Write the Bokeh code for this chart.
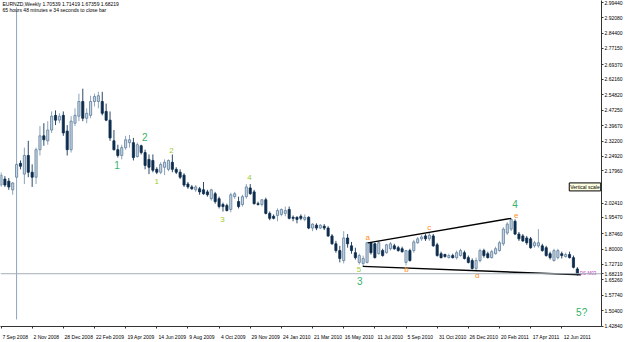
from bokeh.plotting import figure
from bokeh.models import (Range1d, FixedTicker, NumeralTickFormatter, Label, Span,
                          ColumnDataSource, LinearAxis)
from bokeh.core.properties import value
from bokeh.embed import file_html
from bokeh.resources import INLINE

# ---- weekly EURNZD candles (bar 0 = week of 7 Sep 2008) ----
opens = [2.111, 2.140, 2.130, 2.088, 2.149, 2.216, 2.164, 2.254, 2.173, 2.149,
         2.282, 2.349, 2.325, 2.377, 2.448, 2.425, 2.448, 2.372, 2.282, 2.410,
         2.444, 2.515, 2.434, 2.448, 2.515, 2.515, 2.515, 2.467, 2.425, 2.325,
         2.282, 2.254, 2.292, 2.316, 2.316, 2.249, 2.301, 2.268, 2.235, 2.230,
         2.187, 2.173, 2.197, 2.187, 2.221, 2.187, 2.173, 2.159, 2.116, 2.102,
         2.088, 2.093, 2.088, 2.078, 2.045, 2.069, 2.045, 2.017, 2.012, 1.993,
         2.055, 2.031, 2.017, 2.055, 2.097, 2.078, 2.021, 2.017, 2.040, 1.974,
         1.960, 1.964, 1.969, 1.974, 1.993, 1.955, 1.955, 1.960, 1.945, 1.955,
         1.903, 1.917, 1.903, 1.912, 1.903, 1.865, 1.827, 1.794, 1.746, 1.855,
         1.817, 1.784, 1.737, 1.732, 1.737, 1.832, 1.827, 1.779, 1.794, 1.784,
         1.803, 1.817, 1.808, 1.803, 1.737, 1.794, 1.794, 1.832, 1.851, 1.865,
         1.851, 1.865, 1.822, 1.779, 1.775, 1.760, 1.770, 1.760, 1.770, 1.784,
         1.760, 1.746, 1.708, 1.746, 1.794, 1.779, 1.760, 1.779, 1.794, 1.827,
         1.879, 1.898, 1.936, 1.874, 1.865, 1.855, 1.851, 1.817, 1.817, 1.817,
         1.808, 1.779, 1.746, 1.760, 1.779, 1.765, 1.775, 1.760, 1.70539]
highs = [2.173, 2.154, 2.145, 2.126, 2.970, 2.230, 2.292, 2.325, 2.211, 2.292,
         2.396, 2.410, 2.420, 2.467, 2.472, 2.458, 2.467, 2.401, 2.444, 2.482,
         2.553, 2.577, 2.482, 2.543, 2.553, 2.562, 2.562, 2.505, 2.467, 2.377,
         2.306, 2.306, 2.349, 2.353, 2.339, 2.316, 2.306, 2.282, 2.259, 2.259,
         2.197, 2.221, 2.235, 2.235, 2.259, 2.197, 2.187, 2.168, 2.126, 2.111,
         2.111, 2.102, 2.126, 2.088, 2.093, 2.078, 2.055, 2.026, 2.021, 2.074,
         2.078, 2.055, 2.064, 2.116, 2.116, 2.088, 2.031, 2.040, 2.050, 1.983,
         1.969, 1.998, 1.998, 2.007, 2.007, 1.964, 1.960, 1.969, 1.969, 1.960,
         1.926, 1.926, 1.922, 1.922, 1.912, 1.874, 1.841, 1.817, 1.888, 1.874,
         1.836, 1.808, 1.779, 1.770, 1.836, 1.836, 1.832, 1.841, 1.803, 1.827,
         1.836, 1.827, 1.817, 1.813, 1.798, 1.803, 1.846, 1.860, 1.869, 1.874,
         1.879, 1.874, 1.832, 1.789, 1.779, 1.779, 1.779, 1.794, 1.803, 1.794,
         1.770, 1.756, 1.760, 1.803, 1.803, 1.789, 1.798, 1.813, 1.841, 1.907,
         1.931, 1.950, 1.945, 1.884, 1.874, 1.865, 1.860, 1.841, 1.898, 1.827,
         1.817, 1.789, 1.803, 1.803, 1.789, 1.784, 1.789, 1.770, 1.71419]
lows = [2.102, 2.102, 2.088, 2.064, 1.461, 2.187, 2.116, 2.149, 2.102, 2.116,
        2.254, 2.301, 2.306, 2.363, 2.401, 2.410, 2.349, 2.254, 2.268, 2.396,
        2.420, 2.420, 2.410, 2.434, 2.491, 2.482, 2.448, 2.420, 2.325, 2.278,
        2.244, 2.235, 2.282, 2.292, 2.230, 2.244, 2.259, 2.187, 2.164, 2.173,
        2.164, 2.164, 2.159, 2.178, 2.173, 2.164, 2.140, 2.102, 2.093, 2.088,
        2.078, 2.064, 2.064, 2.055, 2.036, 2.021, 1.998, 1.983, 1.983, 1.979,
        2.045, 1.998, 2.007, 2.045, 2.064, 2.017, 2.012, 2.007, 1.969, 1.941,
        1.945, 1.936, 1.960, 1.960, 1.945, 1.936, 1.926, 1.941, 1.936, 1.898,
        1.888, 1.893, 1.898, 1.893, 1.860, 1.822, 1.784, 1.737, 1.732, 1.808,
        1.779, 1.751, 1.727, 1.718, 1.732, 1.775, 1.756, 1.775, 1.765, 1.779,
        1.794, 1.798, 1.789, 1.784, 1.722, 1.741, 1.784, 1.827, 1.841, 1.841,
        1.841, 1.813, 1.765, 1.756, 1.760, 1.756, 1.756, 1.751, 1.765, 1.751,
        1.732, 1.703, 1.694, 1.737, 1.760, 1.756, 1.756, 1.775, 1.789, 1.817,
        1.869, 1.888, 1.869, 1.841, 1.836, 1.822, 1.803, 1.808, 1.808, 1.789,
        1.765, 1.751, 1.741, 1.751, 1.756, 1.760, 1.756, 1.708, 1.67359]
closes = [2.159, 2.111, 2.102, 2.121, 2.211, 2.202, 2.254, 2.173, 2.149, 2.282,
          2.349, 2.330, 2.377, 2.444, 2.425, 2.444, 2.363, 2.282, 2.420, 2.448,
          2.515, 2.434, 2.458, 2.515, 2.539, 2.543, 2.458, 2.425, 2.339, 2.282,
          2.254, 2.292, 2.330, 2.330, 2.244, 2.306, 2.268, 2.206, 2.197, 2.183,
          2.173, 2.211, 2.221, 2.230, 2.187, 2.173, 2.149, 2.111, 2.102, 2.093,
          2.102, 2.078, 2.069, 2.064, 2.088, 2.031, 2.007, 2.007, 1.988, 2.064,
          2.069, 2.007, 2.055, 2.102, 2.069, 2.021, 2.017, 2.040, 1.974, 1.950,
          1.950, 1.988, 1.993, 1.988, 1.950, 1.950, 1.945, 1.950, 1.955, 1.903,
          1.922, 1.903, 1.917, 1.903, 1.865, 1.827, 1.794, 1.756, 1.855, 1.827,
          1.794, 1.760, 1.770, 1.756, 1.832, 1.784, 1.760, 1.832, 1.770, 1.822,
          1.827, 1.803, 1.794, 1.789, 1.794, 1.746, 1.836, 1.851, 1.860, 1.851,
          1.869, 1.817, 1.770, 1.760, 1.765, 1.770, 1.760, 1.784, 1.794, 1.756,
          1.737, 1.708, 1.746, 1.794, 1.770, 1.760, 1.789, 1.803, 1.832, 1.898,
          1.922, 1.945, 1.874, 1.851, 1.841, 1.832, 1.808, 1.832, 1.832, 1.794,
          1.770, 1.760, 1.794, 1.794, 1.770, 1.775, 1.760, 1.713, 1.68219]

date_labels = ["7 Sep 2008", "2 Nov 2008", "28 Dec 2008", "22 Feb 2009", "19 Apr 2009",
               "14 Jun 2009", "9 Aug 2009", "4 Oct 2009", "29 Nov 2009", "24 Jan 2010",
               "21 Mar 2010", "16 May 2010", "11 Jul 2010", "5 Sep 2010", "31 Oct 2010",
               "26 Dec 2010", "20 Feb 2011", "17 Apr 2011", "12 Jun 2011"]
date_label_bars = [0, 8, 16, 24, 32, 40, 48, 56, 64, 72, 80, 88, 96, 104, 112, 120, 128, 136, 144]

price_ticks = [2.9944, 2.9208, 2.8440, 2.7715, 2.6937, 2.6216, 2.5482, 2.4725, 2.3967,
               2.3220, 2.2492, 2.1796, 2.0241, 1.9547, 1.8746, 1.8000, 1.7271, 1.6526,
               1.5774, 1.5040, 1.4284]

# Elliott wave annotations
wave_text = ["1", "2", "1", "2", "3", "4", "5", "3", "a", "b", "c", "d", "e", "4", "5?"]
wave_bar = [29.8, 36.9, 40.0, 43.8, 56.9, 63.8, 91.9, 92.1, 94.2, 104.1, 110.0, 122.3, 132.3, 132.0, 149.1]
wave_price = [2.206, 2.344, 2.126, 2.278, 1.945, 2.149, 1.703, 1.647, 1.855, 1.703, 1.907, 1.675, 1.964, 2.021, 1.495]
wave_degree = ["major", "major", "minor", "minor", "minor", "minor", "minor", "major",
               "sub", "sub", "sub", "sub", "sub", "major", "major"]

# triangle trend lines (bar index, price)
upper_bars = [94.2, 131.0]
upper_prices = [1.8315, 1.9501]
lower_bars = [92.9, 148.9]
lower_prices = [1.7176, 1.6770]

symbol = "EURNZD,Weekly"
last_price = closes[-1]

X0, X1 = -0.13, 154.2
FRAME_W = 604
px_per_bar = FRAME_W / (X1 - X0)

# ---- figure ----
p = figure(width=625, height=342, x_range=Range1d(X0, X1), y_range=Range1d(1.427, 3.0035),
           y_axis_location="right", toolbar_location=None, output_backend="svg",
           min_border_left=0, min_border_top=0, min_border_right=0, min_border_bottom=0,
           background_fill_color="white", border_fill_color="white", outline_line_color=None)
p.grid.visible = False

bars = list(range(len(opens)))
bull = [c >= o for o, c in zip(opens, closes)]
src = ColumnDataSource(dict(
    x=bars, o=opens, h=highs, l=lows, c=closes,
    top=[max(o, c) for o, c in zip(opens, closes)],
    bot=[min(o, c) for o, c in zip(opens, closes)],
    fill=["#c9d5e1" if b else "#0e2d4e" for b in bull],
    edge=["#5d7d9c" if b else "#0e2d4e" for b in bull],
    wick=["#8ca4bc" if b else "#2c4a6a" for b in bull],
))

p.segment(x0="x", y0="l", x1="x", y1="h", source=src, line_color="wick", line_width=1)
p.vbar(x="x", width=0.55, top="top", bottom="bot", source=src,
       fill_color="fill", line_color="edge", line_width=0.8)

# bid line
p.add_layout(Span(location=last_price, dimension="width", line_color="#a3aebb", line_width=1))

# trend lines
p.line(upper_bars, upper_prices, line_color="black", line_width=1.4)
p.line(lower_bars, lower_prices, line_color="black", line_width=1.4)

# wave labels
deg_color = {"major": "#35b36a", "minor": "#9ccd2e", "sub": "#ff8c1a"}
deg_size = {"major": "10px", "minor": "8px", "sub": "8px"}
wsrc = ColumnDataSource(dict(
    x=wave_bar, y=wave_price, t=wave_text,
    col=[deg_color[d] for d in wave_degree],
    fs=[deg_size[d] for d in wave_degree],
))
p.text(x="x", y="y", text="t", source=wsrc, text_color="col", text_font_size="fs",
       text_align="center", text_baseline="middle", text_font=value("Liberation Sans"))

p.text(x=[148.6], y=[last_price - 0.001], text=["DS-M03"], text_color="#c040c0",
       text_font_size="4.5px", text_baseline="middle", text_font=value("Liberation Sans"))

# header
p.add_layout(Label(x=2, y=3.0030, x_units="screen", y_units="data",
                   text=f"{symbol}  {opens[-1]:.5f} {highs[-1]:.5f} {lows[-1]:.5f} {closes[-1]:.5f}",
                   text_font="Liberation Sans", text_font_size="5px", text_baseline="top",
                   text_color="black"))
p.add_layout(Label(x=2, y=2.9740, x_units="screen", y_units="data",
                   text="65 hours 48 minutes e 34 seconds to close bar",
                   text_font="Liberation Sans", text_font_size="5px", text_baseline="top",
                   text_color="black"))

# vertical scale tag at the right edge of the chart
p.add_layout(Label(x=X1 - 0.2, y=2.102, text="Vertical scale", text_color="black",
                   text_font="Liberation Sans", text_font_size="5px", text_baseline="middle",
                   text_align="right", background_fill_color="#ffffe1",
                   border_line_color="black", padding=1))

# axes
ya = p.yaxis[0]
ya.ticker = FixedTicker(ticks=price_ticks + [last_price])
ya.formatter = NumeralTickFormatter(format="0.00000")

xa = p.xaxis[0]
xa.ticker = FixedTicker(ticks=date_label_bars)
xa.major_label_overrides = {b: " " for b in date_label_bars}
xa.major_label_text_font_size = "1px"
xa.major_label_standoff = 0

# date labels: left-aligned at each tick (text drawn centred, so shift by half its width)
label_pos = [b + (len(s) * 2.55 / 2 + 1.5) / px_per_bar for b, s in zip(date_label_bars, date_labels)]
xl = LinearAxis(ticker=FixedTicker(ticks=label_pos),
                major_label_overrides={pos: s for pos, s in zip(label_pos, date_labels)})
xl.axis_line_color = None
xl.major_tick_line_color = None
xl.major_tick_out = 0
xl.major_tick_in = 0
xl.minor_tick_out = 0
xl.minor_tick_in = 0
xl.major_label_standoff = 1
xl.major_label_text_font = "Liberation Sans"
xl.major_label_text_font_size = "5px"
xl.major_label_text_color = "black"
p.add_layout(xl, "below")

for ax in (xa, ya):
    ax.major_label_text_font = "Liberation Sans"
    ax.major_label_text_color = "black"
    ax.major_tick_out = 2
    ax.major_tick_in = 0
    ax.minor_tick_out = 0
    ax.minor_tick_in = 0
    ax.axis_line_color = "#333333"
    ax.major_tick_line_color = "#333333"
ya.major_label_text_font_size = "5px"
ya.major_label_standoff = 1

open("out.html", "w").write(file_html(p, INLINE))
